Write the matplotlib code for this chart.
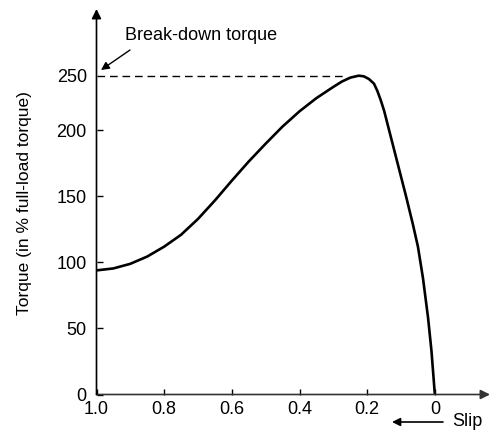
import matplotlib
matplotlib.use('Agg')
import matplotlib.pyplot as plt

# values
slip = [1.0, 0.95, 0.90, 0.85, 0.80, 0.75, 0.70, 0.65, 0.60, 0.55, 0.50,
        0.45, 0.40, 0.35, 0.30, 0.275, 0.25, 0.225, 0.21, 0.195, 0.18,
        0.17, 0.16, 0.15, 0.135, 0.11, 0.085, 0.065, 0.05, 0.035, 0.02, 0.01, 0.0]
torque = [94, 95.5, 99, 104.5, 112, 121, 133, 147, 162, 176.5, 190,
          203, 214.5, 224.5, 233, 237, 240, 241.5, 241, 239, 235.5,
          230, 223, 215, 200, 175, 150, 129, 112, 88, 58, 33, 0]
breakdown = 241.5
xticks = [1.0, 0.8, 0.6, 0.4, 0.2, 0.0]
xticklabels = ['1.0', '0.8', '0.6', '0.4', '0.2', '0']
yticks = [0, 50, 100, 150, 200, breakdown]
yticklabels = ['0', '50', '100', '150', '200', '250']

plt.rcParams['font.family'] = ['Liberation Sans', 'DejaVu Sans']

W, H = 490, 432
fig = plt.figure(figsize=(W / 100, H / 100), dpi=100)
ax = fig.add_axes([96.5 / W, 37.5 / H, (W - 96.5) / W, (394.5 - 9) / H])

ax.plot(slip, torque, color='k', lw=1.9, solid_joinstyle='round')
ax.plot([1.0, 0.26], [breakdown, breakdown], color='k', lw=1.0, dashes=(5.5, 3.5))

ax.set_xlim(1.0, -0.163)
ax.set_ylim(0, 292)

for s in ax.spines.values():
    s.set_visible(False)

# axes as arrows
ax.annotate('', xy=(1, 0), xytext=(0, 0), xycoords='axes fraction',
            arrowprops=dict(arrowstyle='-|>', lw=1.2, color='#333333',
                            shrinkA=0, shrinkB=0, mutation_scale=14))
ax.annotate('', xy=(0, 1), xytext=(0, 0), xycoords='axes fraction',
            arrowprops=dict(arrowstyle='-|>', lw=1.2, color='k',
                            shrinkA=0, shrinkB=0, mutation_scale=14))

ax.set_xticks(xticks)
ax.set_xticklabels(xticklabels)
ax.set_yticks(yticks)
ax.set_yticklabels(yticklabels)
ax.tick_params(axis='both', direction='in', length=4.5, width=1.0, labelsize=13)
ax.tick_params(axis='x', pad=5)
ax.tick_params(axis='y', pad=7)
ax.yaxis.get_major_ticks()[-1].tick1line.set_visible(False)

ax.set_ylabel('Torque (in % full-load torque)', fontsize=12.5, va='center')
ax.yaxis.set_label_coords((25 - 96.5) / 393.5, 0.497)

# annotations
fig.text(125 / W, (H - 36) / H, 'Break-down torque', fontsize=13, ha='left', va='center')
ax.annotate('', xy=(101, H - 70), xytext=(130, H - 50), xycoords='figure pixels',
            textcoords='figure pixels',
            arrowprops=dict(arrowstyle='-|>', lw=1.0, color='k',
                            shrinkA=0, shrinkB=0, mutation_scale=12))
fig.text(452 / W, (H - 422) / H, 'Slip', fontsize=13, ha='left', va='center')
ax.annotate('', xy=(392, H - 422), xytext=(443, H - 422), xycoords='figure pixels',
            textcoords='figure pixels',
            arrowprops=dict(arrowstyle='-|>', lw=1.2, color='k',
                            shrinkA=0, shrinkB=0, mutation_scale=12))

fig.savefig('out.png', dpi=100)
